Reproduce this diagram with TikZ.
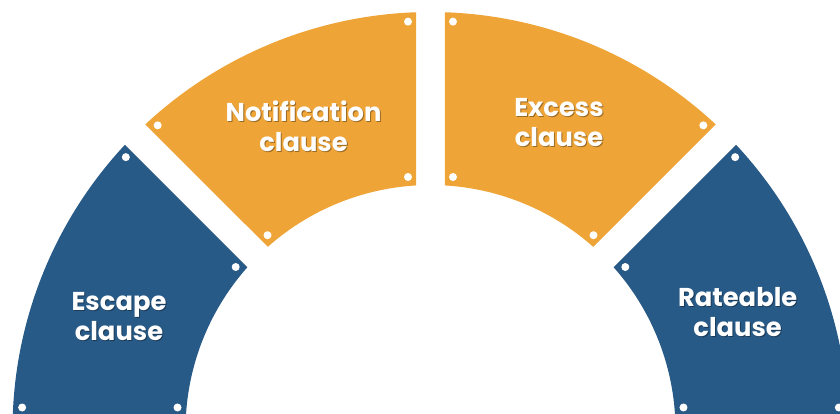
\documentclass[tikz,border=0pt]{standalone}
\usepackage{fontspec}
\setmainfont{Poppins}
\usepackage{tikz}
\definecolor{segblue}{HTML}{285A87}
\definecolor{segorange}{HTML}{EEA437}
\tikzset{dot/.style={inner sep=0pt,circle,fill=white,minimum size=8pt}}
\tikzset{lbl/.style={text=white,font=\bfseries\fontsize{25.8}{30}\selectfont,align=center}}
\tikzset{lblshadow/.style={lbl,text=black,opacity=.35,xshift=1pt,yshift=-1pt}}

\begin{document}
\begin{tikzpicture}[x=1pt,y=1pt]
                    \useasboundingbox (-430.5,16) rectangle (409.5,430);
                    \def\Ro{418}\def\Ri{245}\def\gp{14.5}

                    % ring pieces, cut by parallel gaps at 180, 135, 90, 45 and 0 degrees
                    \foreach \a/\b/\col/\nm in {180/135/segblue/esc,135/90/segorange/note,90/45/segorange/exc,45/0/segblue/rate}{
                        \pgfmathsetmacro\ao{\a-asin(\gp/\Ro)}
                        \pgfmathsetmacro\bo{\b+asin(\gp/\Ro)}
                        \pgfmathsetmacro\ai{\a-asin(\gp/\Ri)}
                        \pgfmathsetmacro\bi{\b+asin(\gp/\Ri)}
                        \fill[\col] (\ao:\Ro) arc[start angle=\ao,end angle=\bo,radius=\Ro pt]
                            -- (\bi:\Ri) arc[start angle=\bi,end angle=\ai,radius=\Ri pt] -- cycle;

                        % corner dots
                        \pgfmathsetmacro\dao{\a-asin(22.5/409)}
                        \pgfmathsetmacro\dbo{\b+asin(22.5/409)}
                        \pgfmathsetmacro\dai{\a-asin(22.5/254)}
                        \pgfmathsetmacro\dbi{\b+asin(22.5/254)}
                        \node[dot] (\nm-1) at (\dao:409) {};
                        \node[dot] (\nm-2) at (\dbo:409) {};
                        \node[dot] (\nm-3) at (\dbi:254) {};
                        \node[dot] (\nm-4) at (\dai:254) {};
                    }

                    \node[lblshadow] at (160:331.5) {Escape\\clause};
                    \node[lbl] (esc) at (160:331.5) {Escape\\clause};
                    \node[lblshadow] at (112.7:329) {Notification\\clause};
                    \node[lbl] (note) at (112.7:329) {Notification\\clause};
                    \node[lblshadow] at (67.3:333) {Excess\\clause};
                    \node[lbl] (exc) at (67.3:333) {Excess\\clause};
                    \node[lblshadow] at (21:329) {Rateable\\clause};
                    \node[lbl] (rate) at (21:329) {Rateable\\clause};
                \end{tikzpicture}
\end{document}
